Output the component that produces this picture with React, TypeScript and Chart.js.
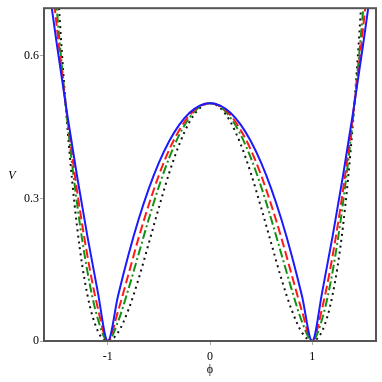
import React, { useEffect, useRef } from "react";
import { Chart, registerables } from "chart.js";

Chart.register(...registerables);

const phi = [-1.6, -1.5, -1.4, -1.3, -1.2, -1.1, -1.0, -0.9, -0.8, -0.7, -0.6, -0.5, -0.4, -0.3, -0.2, -0.1, 0, 0.1, 0.2, 0.3, 0.4, 0.5, 0.6, 0.7, 0.8, 0.9, 1.0, 1.1, 1.2, 1.3, 1.4, 1.5, 1.6];

const vBlue = [0.78, 0.625, 0.48, 0.345, 0.22, 0.105, 0, 0.095, 0.18, 0.255, 0.32, 0.375, 0.42, 0.455, 0.48, 0.495, 0.5, 0.495, 0.48, 0.455, 0.42, 0.375, 0.32, 0.255, 0.18, 0.095, 0, 0.105, 0.22, 0.345, 0.48, 0.625, 0.78];
const vRed = [0.872, 0.661, 0.475, 0.314, 0.179, 0.071, 0, 0.063, 0.139, 0.216, 0.286, 0.349, 0.402, 0.444, 0.475, 0.494, 0.5, 0.494, 0.475, 0.444, 0.402, 0.349, 0.286, 0.216, 0.139, 0.063, 0, 0.071, 0.179, 0.314, 0.475, 0.661, 0.872];
const vGreen = [0.974, 0.699, 0.47, 0.287, 0.146, 0.048, 0, 0.041, 0.108, 0.182, 0.256, 0.325, 0.385, 0.434, 0.47, 0.493, 0.5, 0.493, 0.47, 0.434, 0.385, 0.325, 0.256, 0.182, 0.108, 0.041, 0, 0.048, 0.146, 0.287, 0.47, 0.699, 0.974];
const vBlack = [1.217, 0.781, 0.461, 0.238, 0.097, 0.022, 0, 0.018, 0.065, 0.13, 0.205, 0.281, 0.353, 0.414, 0.461, 0.49, 0.5, 0.49, 0.461, 0.414, 0.353, 0.281, 0.205, 0.13, 0.065, 0.018, 0, 0.022, 0.097, 0.238, 0.461, 0.781, 1.217];

const xTicks = [-1, 0, 1];
const yTicks = [0, 0.3, 0.6];
const xTitle = "ϕ";
const yTitle = "V";

const FONT = "'Liberation Serif', 'DejaVu Serif', serif";

export default function App() {
  const ref = useRef<HTMLCanvasElement | null>(null);

  useEffect(() => {
    if (!ref.current) return;
    const pts = (arr: number[]) => phi.map((x, i) => ({ x, y: arr[i] }));

    const framePlugin = {
      id: "frame",
      afterDatasetsDraw(chart: any) {
        const { ctx, chartArea } = chart;
        ctx.save();
        ctx.strokeStyle = "#555";
        ctx.lineWidth = 2;
        ctx.strokeRect(chartArea.left, chartArea.top, chartArea.right - chartArea.left, chartArea.bottom - chartArea.top);
        ctx.fillStyle = "#000";
        ctx.font = `italic 12px ${FONT}`;
        ctx.textAlign = "center";
        ctx.textBaseline = "middle";
        ctx.fillText(yTitle, 12, (chartArea.top + chartArea.bottom) / 2 + 1);
        ctx.restore();
      },
    };

    const common = {
      pointRadius: 0,
      borderWidth: 2,
      fill: false,
      cubicInterpolationMode: "monotone" as const,
      borderCapStyle: "butt" as const,
    };

    const chart = new Chart(ref.current, {
      type: "line",
      data: {
        datasets: [
          { ...common, label: "a", data: pts(vBlue), borderColor: "#1a1aff" },
          { ...common, label: "b", data: pts(vRed), borderColor: "#ff1a1a", borderDash: [9, 4] },
          { ...common, label: "c", data: pts(vGreen), borderColor: "#129212", borderDash: [9, 3, 2, 3] },
          { ...common, label: "d", data: pts(vBlack), borderColor: "#111", borderDash: [2, 4] },
        ],
      },
      options: {
        animation: false,
        responsive: true,
        maintainAspectRatio: false,
        layout: { padding: { top: 5, right: 6, left: 0, bottom: 0 } },
        plugins: { legend: { display: false }, tooltip: { enabled: false } },
        scales: {
          x: {
            type: "linear",
            min: -1.625,
            max: 1.625,
            afterBuildTicks: (s: any) => { s.ticks = xTicks.map((v) => ({ value: v })); },
            afterFit: (s: any) => { s.height = 41; },
            ticks: { color: "#000", font: { family: FONT, size: 12 }, padding: 5, callback: (v: any) => String(v), maxRotation: 0 },
            grid: { drawOnChartArea: false, drawTicks: true, tickLength: 4, tickColor: "#aaa", color: "#aaa" },
            border: { display: false },
            title: { display: true, text: xTitle, color: "#000", font: { family: FONT, size: 12 }, padding: { top: 0, bottom: 5 } },
          },
          y: {
            type: "linear",
            min: 0,
            max: 0.7,
            afterBuildTicks: (s: any) => { s.ticks = yTicks.map((v) => ({ value: v })); },
            afterFit: (s: any) => { s.width = 44; },
            ticks: { color: "#000", font: { family: FONT, size: 12 }, padding: 1, callback: (v: any) => String(v) },
            grid: { drawOnChartArea: false, drawTicks: true, tickLength: 4, tickColor: "#aaa", color: "#aaa" },
            border: { display: false },
          },
        },
      },
      plugins: [framePlugin],
    });
    return () => chart.destroy();
  }, []);

  return (
    <div style={{ position: "absolute", left: 0, top: 0, width: 382, height: 382, background: "#fff" }}>
      <canvas ref={ref} />
    </div>
  );
}
